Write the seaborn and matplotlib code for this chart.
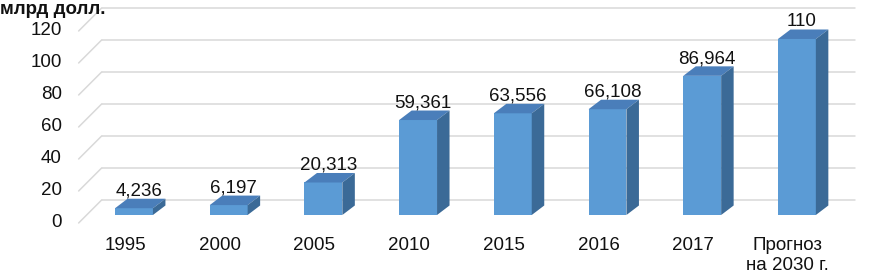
import numpy as np
import pandas as pd
import seaborn as sns
import matplotlib.pyplot as plt
from matplotlib.patches import Polygon

categories = ['1995', '2000', '2005', '2010', '2015', '2016', '2017', 'Прогноз\nна 2030 г.']
values = [4.236, 6.197, 20.313, 59.361, 63.556, 66.108, 86.964, 110]
value_labels = ['4,236', '6,197', '20,313', '59,361', '63,556', '66,108', '86,964', '110']
yticks = [0, 20, 40, 60, 80, 100, 120]
unit_label = 'млрд долл.'

sns.set_style('white')
plt.rcParams['font.family'] = ['Liberation Sans', 'DejaVu Sans']

FW, FH = 871, 275
fig = plt.figure(figsize=(FW / 100, FH / 100), dpi=100)
ax = fig.add_axes([0.09948, 0.2182, 0.86492, 0.6982])

df = pd.DataFrame({'cat': categories, 'val': values})
sns.barplot(data=df, x='cat', y='val', color='#5B9BD5', saturation=1,
            width=0.4, linewidth=0, ax=ax, zorder=3)

xlim = (-0.5, 7.455)
ylim = (0, 120)
ax.set_xlim(*xlim)
ax.set_ylim(*ylim)
ux = 0.86492 * FW / (xlim[1] - xlim[0])   # px per x unit
uy = 0.6982 * FH / (ylim[1] - ylim[0])    # px per y unit

for s in ax.spines.values():
    s.set_visible(False)
ax.set_xticks([])
ax.set_yticks([])
ax.set_xlabel('')
ax.set_ylabel('')

grid_c = '#D9D9D9'
txt_c = '#111111'
back, front = 15, 8   # depth offsets (px) of back wall and front edge vs bar plane
for v in yticks:
    ax.plot([xlim[0] + back / ux, xlim[1] + back / ux], [v + back / uy] * 2,
            color=grid_c, lw=1.1, clip_on=False, zorder=1)
    ax.plot([xlim[0] - front / ux, xlim[0] + back / ux],
            [v - front / uy, v + back / uy],
            color=grid_c, lw=1.1, clip_on=False, zorder=1)
    ax.text(xlim[0] - (front + 17) / ux, v - front / uy, str(v),
            ha='right', va='center', fontsize=13.5, color=txt_c)

# 3D faces of the bars
dx, dy = 12.5 / ux, 9.5 / uy
for p, lab, cat in zip(ax.patches, value_labels, categories):
    x0, w, h = p.get_x(), p.get_width(), p.get_height()
    top = Polygon([(x0, h), (x0 + w, h), (x0 + w + dx, h + dy), (x0 + dx, h + dy)],
                  closed=True, facecolor='#4A7EBA', edgecolor='none', zorder=3,
                  clip_on=False)
    side = Polygon([(x0 + w, 0), (x0 + w + dx, dy), (x0 + w + dx, h + dy), (x0 + w, h)],
                   closed=True, facecolor='#3B6A97', edgecolor='none', zorder=3,
                   clip_on=False)
    ax.add_patch(top)
    ax.add_patch(side)
    cx = x0 + w / 2
    ax.text(cx + 5 / ux, h + 12.5 / uy, lab, ha='center', va='baseline',
            fontsize=13.5, color=txt_c, clip_on=False)
    ax.text(cx - 9 / ux, -22 / uy, cat, ha='center', va='top', fontsize=13.5,
            color=txt_c, linespacing=1.2, clip_on=False)

fig.text(0.0, 1 - 9 / FH, unit_label, ha='left', va='center',
         fontsize=13.5, fontweight='bold', color=txt_c)

fig.savefig('out.png', dpi=100)
